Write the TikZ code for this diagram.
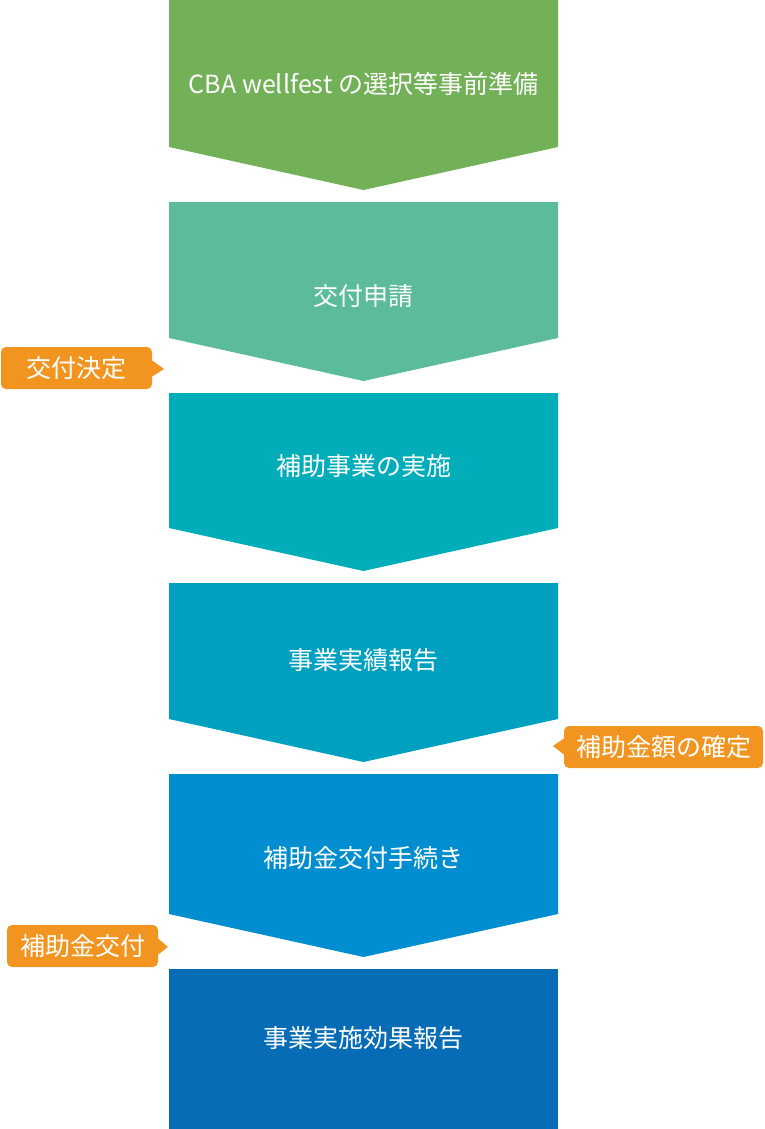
\documentclass[tikz,border=0pt]{standalone}
\usepackage{fontspec}
\setmainfont{Noto Sans CJK JP}
\definecolor{cA}{HTML}{72B157}
\definecolor{cB}{HTML}{5BBB9A}
\definecolor{cC}{HTML}{00ADB9}
\definecolor{cD}{HTML}{00A0C1}
\definecolor{cE}{HTML}{008ED0}
\definecolor{cF}{HTML}{066CB5}
\definecolor{corange}{HTML}{F29420}
\begin{document}
\begin{tikzpicture}[x=1pt,y=-1pt,
  steptext/.style={text=white,font=\fontsize{25}{28}\selectfont,inner sep=0pt,anchor=center},
  callout/.style={fill=corange,rounded corners=5pt,minimum height=42pt,inner sep=0pt,text=white,font=\fontsize{25}{28}\selectfont},
  pointer/.style={fill=corange}]
\useasboundingbox (0,0) rectangle (764,1129);
% chevrons
\newcommand{\chev}[3]{% top, sidebottom, color
  \fill[#3] (169,#1) -- (558,#1) -- (558,#2) -- (363.5,#2+43) -- (169,#2) -- cycle;}
\chev{0}{147}{cA}
\chev{202}{338}{cB}
\chev{393}{528}{cC}
\chev{583}{719}{cD}
\chev{774}{914}{cE}
\fill[cF] (169,969) rectangle (558,1129);
% step texts
\node[steptext] (s1) at (363.5,84) {CBA wellfest の選択等事前準備};
\node[steptext] (s2) at (363.5,296) {交付申請};
\node[steptext] (s3) at (363.5,466) {補助事業の実施};
\node[steptext] (s4) at (363.5,660) {事業実績報告};
\node[steptext] (s5) at (363.5,858) {補助金交付手続き};
\node[steptext] (s6) at (363.5,1038) {事業実施効果報告};
% callouts
\node[callout,minimum width=151pt] (c1) at (76.5,368) {交付決定};
\coordinate (p1) at (164,369);
\fill[pointer] ([yshift=7.5pt]c1.east) -- (p1) -- ([yshift=-8.5pt]c1.east) -- cycle;
\node[callout,minimum width=199pt] (c2) at (663.5,747) {補助金額の確定};
\coordinate (p2) at (553,746);
\fill[pointer] ([yshift=8.5pt]c2.west) -- (p2) -- ([yshift=-7.5pt]c2.west) -- cycle;
\node[callout,minimum width=151pt] (c3) at (82.5,946) {補助金交付};
\coordinate (p3) at (168,947);
\fill[pointer] ([yshift=7.5pt]c3.east) -- (p3) -- ([yshift=-8.5pt]c3.east) -- cycle;
\end{tikzpicture}
\end{document}
